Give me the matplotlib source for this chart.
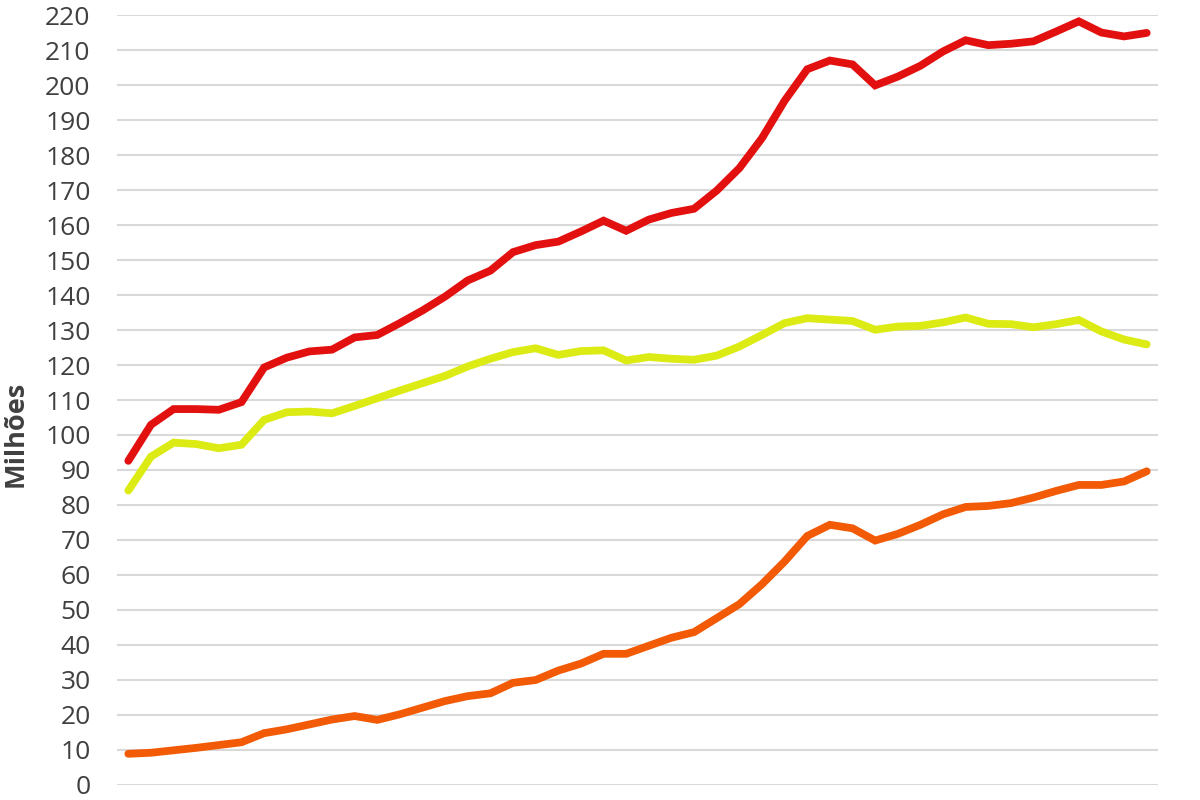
import numpy as np
import matplotlib
matplotlib.use("Agg")
import matplotlib.pyplot as plt

# Values (millions), one per period, 46 periods
red_values = [92.6, 102.9, 107.4, 107.4, 107.2, 109.4, 119.3, 122.1, 123.9, 124.4,
              127.9, 128.6, 132.0, 135.6, 139.6, 144.2, 147.0, 152.3, 154.3, 155.3,
              158.2, 161.3, 158.4, 161.6, 163.5, 164.7, 169.9, 176.3, 184.9, 195.6,
              204.6, 207.1, 206.0, 200.0, 202.5, 205.6, 209.7, 212.9, 211.5, 211.9,
              212.6, 215.4, 218.3, 215.1, 214.0, 215.0]
yellow_values = [84.1, 93.8, 97.8, 97.4, 96.2, 97.2, 104.3, 106.5, 106.7, 106.2,
                 108.3, 110.5, 112.7, 114.8, 116.9, 119.6, 121.8, 123.7, 124.8, 122.9,
                 124.0, 124.2, 121.3, 122.3, 121.8, 121.5, 122.7, 125.3, 128.6, 132.0,
                 133.4, 133.0, 132.6, 130.1, 131.0, 131.2, 132.2, 133.6, 131.8, 131.7,
                 130.8, 131.7, 132.9, 129.6, 127.3, 125.9]
orange_values = [8.8, 9.1, 9.8, 10.5, 11.3, 12.1, 14.7, 15.8, 17.2, 18.6,
                 19.6, 18.5, 20.1, 22.0, 23.9, 25.3, 26.1, 29.1, 29.9, 32.6,
                 34.6, 37.4, 37.4, 39.7, 42.0, 43.6, 47.6, 51.6, 57.3, 63.8,
                 71.1, 74.3, 73.3, 69.8, 71.7, 74.3, 77.3, 79.4, 79.7, 80.5,
                 82.1, 84.0, 85.7, 85.7, 86.7, 89.6]

yticks = list(range(0, 221, 10))
ylabel = "Milhões"

x = np.arange(len(red_values))

fig = plt.figure(figsize=(12, 8), dpi=100)
ax = fig.add_axes([0.0975, 0.0193, 0.8675, 0.9614])

ax.plot(x, red_values, color="#E31010", lw=5.6, solid_capstyle="round", solid_joinstyle="miter", zorder=3)
ax.plot(x, yellow_values, color="#DCEB14", lw=5.6, solid_capstyle="round", solid_joinstyle="miter", zorder=3)
ax.plot(x, orange_values, color="#F25A05", lw=5.6, solid_capstyle="round", solid_joinstyle="miter", zorder=3)

ax.set_xlim(-0.5, len(red_values) - 0.5)
ax.set_ylim(0, 220)
ax.set_yticks(yticks)
ax.set_xticks([])
ax.grid(axis="y", color="#D9D9D9", lw=1.5, zorder=0)
ax.set_axisbelow(True)
for s in ax.spines.values():
    s.set_visible(False)
ax.tick_params(axis="y", length=0, pad=19, labelsize=19, labelcolor="#404040")
for lab in ax.get_yticklabels():
    lab.set_fontfamily("Open Sans")

fig.text(0.013, 0.4575, ylabel, rotation=90, ha="center", va="center",
         fontsize=19.5, fontweight="bold", color="#404040", family="Open Sans")

fig.savefig("out.png", dpi=100)
